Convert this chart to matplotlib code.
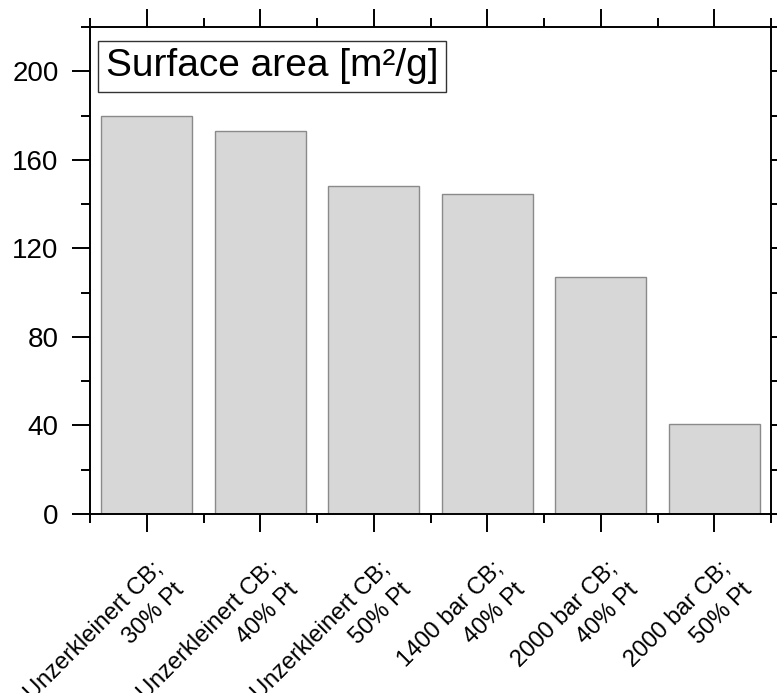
import matplotlib
matplotlib.use("Agg")
import matplotlib.pyplot as plt
import matplotlib.transforms as mtransforms
from matplotlib.ticker import MultipleLocator

plt.rcParams['font.family'] = ['Liberation Sans', 'DejaVu Sans']

# data
samples = ["Unzerkleinert CB;\n30% Pt", "Unzerkleinert CB;\n40% Pt",
           "Unzerkleinert CB;\n50% Pt", "1400 bar CB;\n40% Pt",
           "2000 bar CB;\n40% Pt", "2000 bar CB;\n50% Pt"]
surface_area = [180, 173, 148, 144.5, 107, 40.5]
title = "Surface area [m²/g]"

fig = plt.figure(figsize=(7.77, 6.93), dpi=100)
ax = fig.add_axes([90 / 777, 179 / 693, 681 / 777, 487 / 693])

pos = list(range(1, len(samples) + 1))
ax.bar(pos, surface_area, width=0.8, color='#d7d7d7', edgecolor='#8a8a8a', linewidth=1.0, zorder=2)

ax.set_xlim(0.5, len(samples) + 0.5)
ax.set_ylim(0, 220)
ax.set_xticks(pos)
ax.set_xticklabels(samples)
ax.xaxis.set_minor_locator(MultipleLocator(1, offset=0.5))
ax.yaxis.set_major_locator(MultipleLocator(40))
ax.yaxis.set_minor_locator(MultipleLocator(20))

for s in ax.spines.values():
    s.set_linewidth(1.4)

ax.tick_params(which='both', direction='out', width=1.4, top=True, right=True,
               labeltop=False, labelright=False)
ax.tick_params(which='major', length=13)
ax.tick_params(which='minor', length=6.5)
ax.tick_params(axis='y', labelsize=20, pad=9.5)
ax.tick_params(axis='x', labelsize=17, pad=18.5)

# labels hang from their top right corner, a bit right of the tick
shift = mtransforms.ScaledTranslation(5 / 100, 0, fig.dpi_scale_trans)
for lab in ax.get_xticklabels():
    lab.set_rotation(45)
    lab.set_rotation_mode('anchor')
    lab.set_ha('right')
    lab.set_va('top')
    lab.set_multialignment('right')
    lab.set_linespacing(1.5)
    lab.set_transform(lab.get_transform() + shift)

ax.text(0.023, 0.919, title, transform=ax.transAxes, fontsize=28, ha='left', va='center',
        bbox=dict(boxstyle='square,pad=0.2', fc='white', ec='#333333', lw=1.0), zorder=3)

fig.savefig("out.png", dpi=100)
